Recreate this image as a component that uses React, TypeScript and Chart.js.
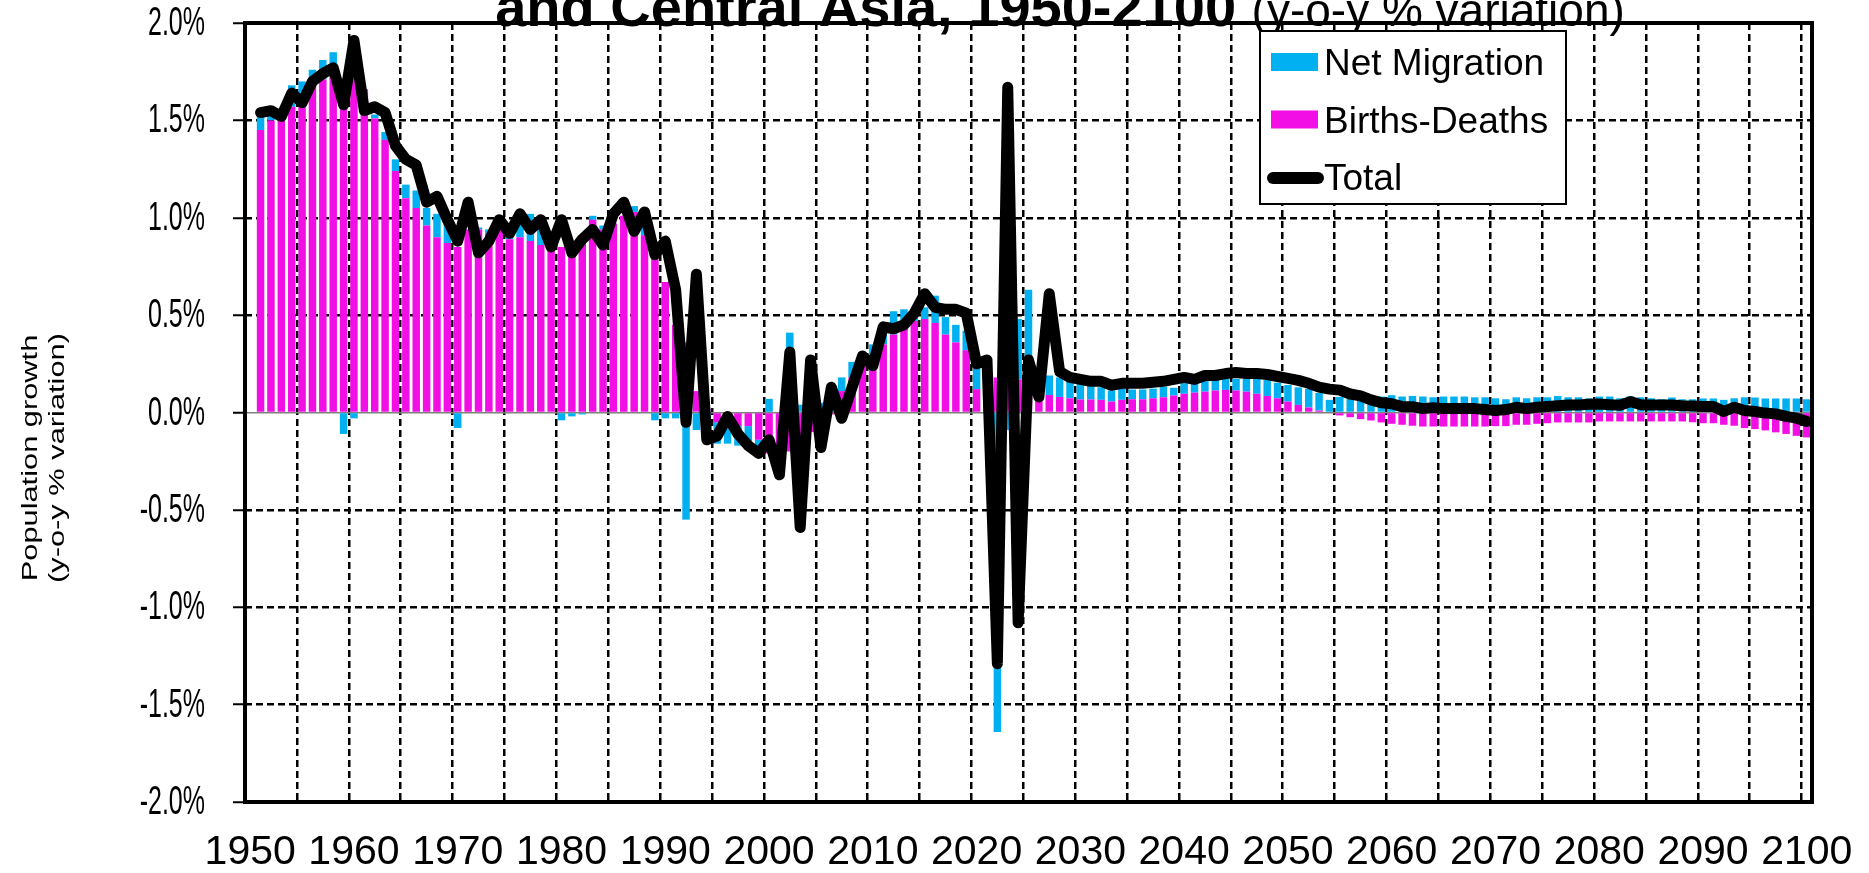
import React, { useEffect, useRef } from 'react';
import { Chart, registerables } from 'chart.js';

Chart.register(...registerables);

// Categories: 1950..2100 (growth data starts 1951)
const years: string[] = [];
for (let y = 1950; y <= 2100; y++) years.push(String(y));

const birthsDeaths: (number | null)[] = [
  null,
  1.45, 1.50, 1.50, 1.57, 1.58, 1.69, 1.71, 1.77, 1.70, 1.78,
  1.66, 1.51, 1.40, 1.24, 1.10, 1.05, 0.96, 0.90, 0.87, 0.85,
  0.94, 0.94, 0.92, 0.94, 0.89, 0.90, 0.88, 0.86, 0.83, 0.85,
  0.80, 0.88, 0.99, 0.94, 0.97, 1.01, 1.03, 0.91, 0.79, 0.67,
  0.45, 0.36, 0.11, 0.02, -0.05, -0.06, -0.07, -0.07, -0.14, -0.21,
  -0.21, -0.20, -0.15, -0.10, -0.06, -0.01, 0.11, 0.18, 0.25, 0.26,
  0.35, 0.40, 0.43, 0.47, 0.48, 0.46, 0.40, 0.36, 0.32, 0.12,
  0.20, 0.18, 0.17, 0.17, 0.15, 0.11, 0.09, 0.08, 0.073, 0.067,
  0.067, 0.065, 0.056, 0.065, 0.068, 0.068, 0.073, 0.078, 0.087, 0.096,
  0.102, 0.107, 0.113, 0.116, 0.113, 0.107, 0.096, 0.085, 0.073, 0.056,
  0.039, 0.026, 0.010, 0.0, -0.015, -0.024, -0.034, -0.041, -0.051, -0.058,
  -0.063, -0.068, -0.072, -0.072, -0.072, -0.072, -0.072, -0.072, -0.072, -0.07,
  -0.07, -0.063, -0.063, -0.058, -0.055, -0.051, -0.051, -0.051, -0.051, -0.046,
  -0.046, -0.046, -0.046, -0.046, -0.046, -0.046, -0.046, -0.046, -0.05, -0.055,
  -0.055, -0.063, -0.068, -0.08, -0.085, -0.092, -0.102, -0.11, -0.12, -0.128,
];

const netMigration: (number | null)[] = [
  null,
  0.07, 0.03, 0.04, 0.11, 0.12, 0.07, 0.10, 0.08, -0.11, -0.03,
  0.0, 0.02, 0.04, 0.06, 0.07, 0.09, 0.09, 0.12, 0.10, -0.08,
  0.0, 0.01, 0.02, 0.01, 0.03, 0.14, 0.14, 0.12, 0.02, -0.04,
  -0.02, -0.01, 0.02, 0.02, 0.0, 0.0, 0.03, 0.04, -0.04, -0.03,
  -0.03, -0.55, -0.09, -0.12, -0.11, -0.10, -0.10, -0.12, -0.07, 0.07,
  -0.05, 0.41, 0.04, 0.05, 0.05, 0.09, 0.07, 0.08, 0.06, 0.09,
  0.08, 0.12, 0.10, 0.05, 0.06, 0.14, 0.09, 0.09, 0.10, 0.11,
  0.05, -1.64, -0.09, 0.31, 0.48, 0.09, 0.10, 0.10, 0.094, 0.082,
  0.08, 0.065, 0.057, 0.06, 0.05, 0.05, 0.05, 0.055, 0.04, 0.055,
  0.05, 0.06, 0.055, 0.06, 0.06, 0.065, 0.076, 0.082, 0.08, 0.085,
  0.09, 0.096, 0.09, 0.065, 0.08, 0.078, 0.078, 0.078, 0.082, 0.089,
  0.082, 0.085, 0.082, 0.078, 0.082, 0.082, 0.082, 0.078, 0.078, 0.073,
  0.068, 0.078, 0.073, 0.078, 0.078, 0.085, 0.078, 0.078, 0.073, 0.082,
  0.082, 0.073, 0.082, 0.078, 0.073, 0.068, 0.077, 0.068, 0.068, 0.072,
  0.072, 0.065, 0.073, 0.078, 0.077, 0.072, 0.072, 0.072, 0.072, 0.068,
];

const total: (number | null)[] = [
  null,
  1.54, 1.55, 1.52, 1.64, 1.59, 1.70, 1.74, 1.77, 1.58, 1.91,
  1.55, 1.57, 1.54, 1.37, 1.30, 1.27, 1.08, 1.11, 0.99, 0.88,
  1.08, 0.82, 0.88, 0.99, 0.92, 1.02, 0.94, 0.99, 0.85, 0.99,
  0.82, 0.89, 0.94, 0.86, 1.02, 1.08, 0.93, 1.03, 0.81, 0.88,
  0.63, -0.05, 0.71, -0.14, -0.12, -0.02, -0.11, -0.17, -0.21, -0.14,
  -0.32, 0.31, -0.59, 0.27, -0.18, 0.13, -0.03, 0.13, 0.29, 0.24,
  0.44, 0.43, 0.45, 0.51, 0.61, 0.54, 0.53, 0.53, 0.51, 0.25,
  0.27, -1.29, 1.67, -1.08, 0.27, 0.08, 0.61, 0.21, 0.18, 0.17,
  0.16, 0.16, 0.14, 0.15, 0.15, 0.15, 0.155, 0.16, 0.17, 0.18,
  0.17, 0.19, 0.19, 0.20, 0.205, 0.20, 0.20, 0.195, 0.185, 0.175,
  0.165, 0.15, 0.13, 0.12, 0.115, 0.095, 0.085, 0.065, 0.05, 0.045,
  0.03, 0.03, 0.02, 0.025, 0.02, 0.02, 0.02, 0.02, 0.015, 0.01,
  0.015, 0.027, 0.02, 0.027, 0.031, 0.035, 0.039, 0.039, 0.042, 0.044,
  0.04, 0.037, 0.056, 0.04, 0.039, 0.039, 0.039, 0.035, 0.033, 0.031,
  0.031, 0.005, 0.027, 0.01, 0.005, -0.003, -0.007, -0.02, -0.029, -0.046,
];

const yMin = -2;
const yMax = 2;
const yStep = 0.5;
const xLabelEvery = 10;
const xGridEvery = 5;

const titleBold = 'and Central Asia, 1950-2100 ';
const titleNormal = '(y-o-y % variation)';
const yTitle = ['Population growth', '(y-o-y % variation)'];

const CYAN = '#00B0F0';
const MAGENTA = '#F20FE5';
const FONT = '"Liberation Sans", Arial, sans-serif';

const fmtPct = (v: number) => v.toFixed(1) + '%';

const decorPlugin = {
  id: 'decor',
  afterDatasetsDraw(chart: any) {
    const { ctx, chartArea } = chart;
    ctx.save();
    ctx.strokeStyle = '#000';
    ctx.lineWidth = 4;
    ctx.strokeRect(chartArea.left, chartArea.top, chartArea.right - chartArea.left, chartArea.bottom - chartArea.top);
    ctx.restore();
  },
  afterDraw(chart: any) {
    const { ctx } = chart;
    const ys = chart.scales.y;
    ctx.save();

    // Y tick labels (tall, narrow text like the reference)
    ctx.fillStyle = '#000';
    ctx.font = `25px ${FONT}`;
    ctx.textAlign = 'right';
    ctx.textBaseline = 'middle';
    ys.ticks.forEach((t: any) => {
      const py = ys.getPixelForValue(t.value);
      ctx.save();
      ctx.translate(205, py + 1);
      ctx.scale(1, 1.6);
      ctx.fillText(fmtPct(t.value), 0, 0);
      ctx.restore();
    });

    // Y axis title (two lines, rotated)
    ctx.font = `22px ${FONT}`;
    ctx.textAlign = 'center';
    ctx.textBaseline = 'middle';
    const tx = [31, 58];
    yTitle.forEach((line, i) => {
      ctx.save();
      ctx.translate(tx[i], 458);
      ctx.rotate(-Math.PI / 2);
      ctx.scale(1.4, 1);
      ctx.fillText(line, 0, 0);
      ctx.restore();
    });

    // Title (partly above the canvas)
    ctx.textBaseline = 'alphabetic';
    ctx.textAlign = 'left';
    const boldFont = `bold 56px ${FONT}`;
    const normFont = `46px ${FONT}`;
    ctx.font = boldFont;
    const wb = ctx.measureText(titleBold).width;
    ctx.font = normFont;
    const wn = ctx.measureText(titleNormal).width;
    const cx = 1060;
    const x0 = cx - (wb + wn) / 2;
    const base = 26;
    ctx.font = boldFont;
    ctx.fillText(titleBold, x0, base);
    ctx.font = normFont;
    ctx.fillText(titleNormal, x0 + wb, base);

    // Legend box
    const lx = 1260, ly = 31, lw = 306, lh = 173;
    ctx.fillStyle = '#fff';
    ctx.fillRect(lx, ly, lw, lh);
    ctx.strokeStyle = '#000';
    ctx.lineWidth = 2;
    ctx.strokeRect(lx, ly, lw, lh);
    const ds = chart.data.datasets;
    const items = [ds[2], ds[1], ds[0]];
    ctx.font = `37px ${FONT}`;
    items.forEach((d: any, i: number) => {
      const baseY = 75 + i * 57.5;
      if (d.type === 'line') {
        ctx.strokeStyle = d.borderColor;
        ctx.lineWidth = 12;
        ctx.lineCap = 'round';
        ctx.beginPath();
        ctx.moveTo(1273, baseY - 12);
        ctx.lineTo(1318, baseY - 12);
        ctx.stroke();
      } else {
        ctx.fillStyle = d.backgroundColor;
        ctx.fillRect(1271, baseY - 22, 47, 18);
      }
      ctx.fillStyle = '#000';
      ctx.fillText(d.label, 1324, baseY);
    });
    ctx.restore();
  },
};

export default function App() {
  const ref = useRef<HTMLCanvasElement | null>(null);
  useEffect(() => {
    if (!ref.current) return;
    const chart = new Chart(ref.current, {
      type: 'bar',
      data: {
        labels: years,
        datasets: [
          {
            type: 'line',
            label: 'Total',
            data: total,
            borderColor: '#000',
            backgroundColor: '#000',
            borderWidth: 11,
            pointRadius: 0,
            tension: 0,
            borderJoinStyle: 'round',
            borderCapStyle: 'round',
            stack: 'line',
            order: 0,
          } as any,
          {
            type: 'bar',
            label: 'Births-Deaths',
            data: birthsDeaths,
            backgroundColor: MAGENTA,
            stack: 'bars',
            order: 1,
            categoryPercentage: 1,
            barPercentage: 0.72,
          },
          {
            type: 'bar',
            label: 'Net Migration',
            data: netMigration,
            backgroundColor: CYAN,
            stack: 'bars',
            order: 2,
            categoryPercentage: 1,
            barPercentage: 0.72,
          },
        ],
      },
      options: {
        responsive: false,
        animation: false,
        layout: { padding: { top: 23, right: 57, left: 0, bottom: 0 } },
        plugins: {
          legend: { display: false },
          title: { display: false },
          tooltip: { enabled: false },
        },
        scales: {
          x: {
            type: 'category',
            stacked: true,
            offset: true,
            grid: {
              offset: true,
              drawTicks: false,
              lineWidth: 2.5,
              color: (c: any) => (c.index % xGridEvery === 0 && c.index > 0 && c.index < years.length ? '#000' : 'rgba(0,0,0,0)'),
            },
            border: { display: false, dash: [7, 4] },
            ticks: {
              autoSkip: false,
              maxRotation: 0,
              minRotation: 0,
              padding: 26,
              color: '#000',
              font: { family: FONT, size: 41 },
              callback: (_v: any, i: number) => (i % xLabelEvery === 0 ? years[i] : ''),
            },
            afterFit: (s: any) => {
              s.height = 71;
              s.paddingLeft = 0;
              s.paddingRight = 0;
            },
          },
          y: {
            stacked: true,
            min: yMin,
            max: yMax,
            ticks: {
              display: false,
              stepSize: yStep,
              callback: (v: any) => fmtPct(Number(v)),
            },
            grid: {
              color: (c: any) => {
                const v = c.tick ? c.tick.value : null;
                if (v === 0) return '#808080';
                if (v === yMin || v === yMax) return 'rgba(0,0,0,0)';
                return '#000';
              },
              lineWidth: (c: any) => (c.tick && c.tick.value === 0 ? 1.5 : 2.5),
              tickLength: 12,
              tickColor: '#000',
              tickWidth: 2,
              tickBorderDash: [],
            },
            border: {
              display: false,
              dash: (c: any) => (c.tick && c.tick.value === 0 ? [] : [7, 4]),
            },
            title: { display: false },
            afterFit: (s: any) => {
              s.width = 245;
              s.paddingTop = 0;
              s.paddingBottom = 0;
            },
          },
        },
      } as any,
      plugins: [decorPlugin],
    });
    return () => chart.destroy();
  }, []);

  return (
    <div style={{ position: 'absolute', left: 0, top: 0, width: 1869, height: 873, background: '#fff' }}>
      <canvas ref={ref} width={1869} height={873} />
    </div>
  );
}
